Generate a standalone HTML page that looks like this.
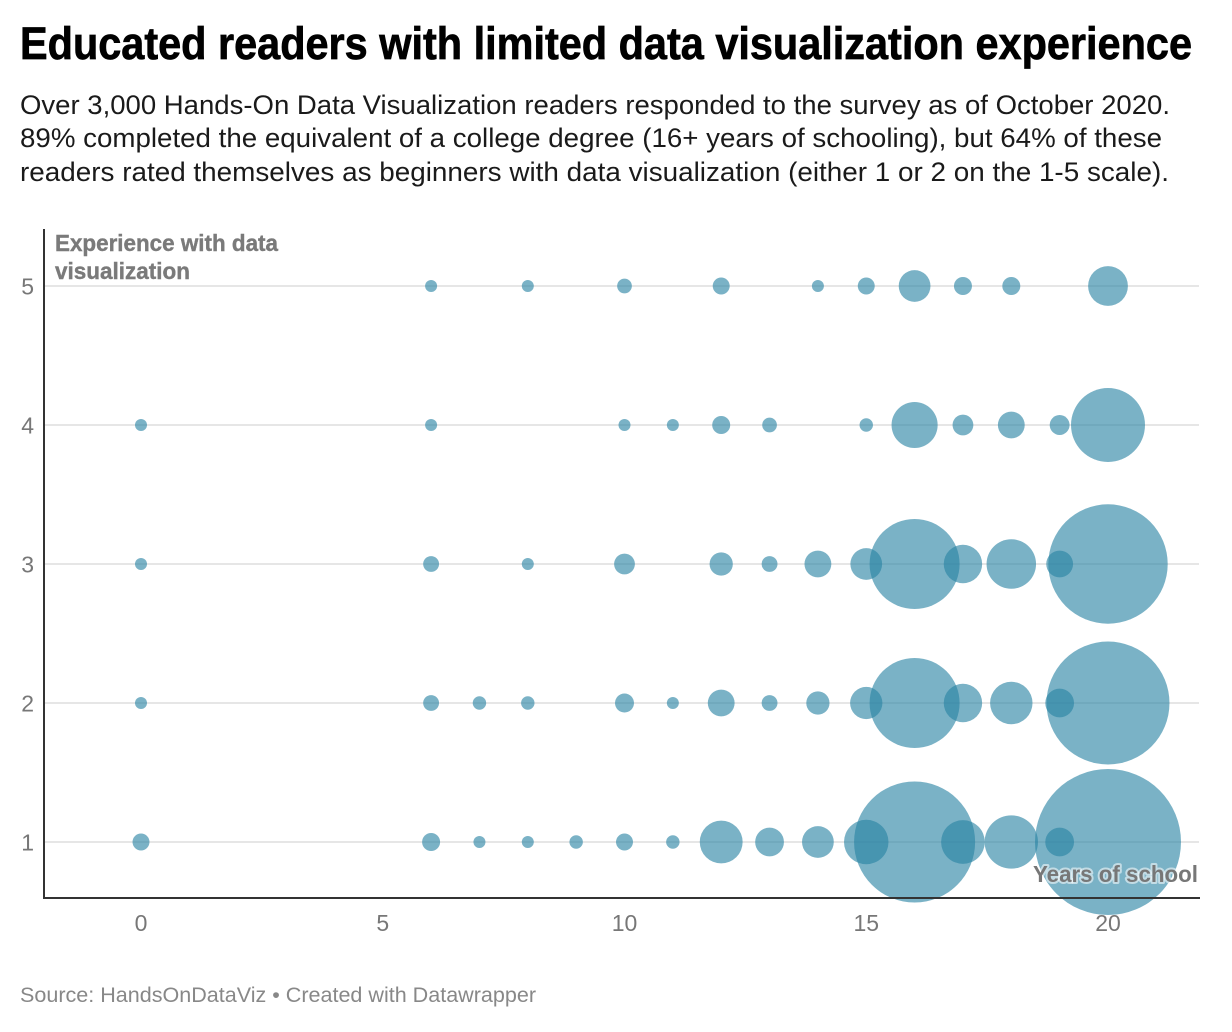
<!DOCTYPE html>
<html lang="en">
<head>
<meta charset="utf-8">
<title>Educated readers with limited data visualization experience</title>
<style>
  html, body { margin: 0; padding: 0; background: #fff; }
  svg { display: block; font-family: "Liberation Sans", sans-serif; }
  .halo { paint-order: stroke fill; stroke: rgba(255,255,255,.55); stroke-width: 4px; stroke-linejoin: round; }
</style>
</head>
<body>
<svg id="chart" width="1232" height="1032" viewBox="0 0 1232 1032" xmlns="http://www.w3.org/2000/svg">
  <rect width="1232" height="1032" fill="#fff"/>
  <text x="20" y="59" font-size="45" font-weight="700" fill="#000" stroke="#000" stroke-width="0.7" textLength="1172" lengthAdjust="spacingAndGlyphs">Educated readers with limited data visualization experience</text>
  <text x="20" y="114" font-size="27" fill="#1a1a1a" textLength="1150" lengthAdjust="spacingAndGlyphs">Over 3,000 Hands-On Data Visualization readers responded to the survey as of October 2020.</text>
  <text x="20" y="147" font-size="27" fill="#1a1a1a" textLength="1142" lengthAdjust="spacingAndGlyphs">89% completed the equivalent of a college degree (16+ years of schooling), but 64% of these</text>
  <text x="20" y="181" font-size="27" fill="#1a1a1a" textLength="1149" lengthAdjust="spacingAndGlyphs">readers rated themselves as beginners with data visualization (either 1 or 2 on the 1-5 scale).</text>
  <g id="grid"></g>
  <g id="bubbles"></g>
  <line x1="44" x2="44" y1="229" y2="899" stroke="#333" stroke-width="2"/>
  <line x1="43" x2="1200" y1="898" y2="898" stroke="#333" stroke-width="2"/>
  <g id="ticks"></g>
  <text x="55" y="251" font-size="23" font-weight="700" fill="#7a7a7a" stroke="#7a7a7a" stroke-width="0.4" textLength="223" lengthAdjust="spacingAndGlyphs">Experience with data</text>
  <text x="55" y="279" font-size="23" font-weight="700" fill="#7a7a7a" stroke="#7a7a7a" stroke-width="0.4" textLength="135" lengthAdjust="spacingAndGlyphs">visualization</text>
  <text class="halo" x="1033" y="882" font-size="23" font-weight="700" fill="#777" textLength="165" lengthAdjust="spacingAndGlyphs">Years of school</text>
  <text x="20" y="1002" font-size="21" fill="#888" textLength="516" lengthAdjust="spacingAndGlyphs">Source: HandsOnDataViz • Created with Datawrapper</text>
</svg>
<script>
const yearsOfSchool = [0, 6, 7, 8, 9, 10, 11, 12, 13, 14, 15, 16, 17, 18, 19, 20];
const readersLevel5 = [0, 4, 0, 4, 0, 6, 0, 8, 0, 4, 8, 28, 9, 9, 0, 44];
const readersLevel4 = [4, 4, 0, 0, 0, 4, 4, 9, 6, 0, 5, 59, 12, 20, 11, 152];
const readersLevel3 = [4, 7, 0, 4, 0, 12, 0, 15, 7, 20, 28, 225, 41, 68, 20, 396];
const readersLevel2 = [4, 7, 5, 5, 0, 10, 4, 20, 7, 15, 29, 225, 41, 50, 23, 420];
const readersLevel1 = [8, 9, 4, 4, 5, 8, 5, 51, 23, 28, 55, 407, 53, 79, 23, 592];
const experienceLevels = [5, 4, 3, 2, 1];
const xTickLabels = [0, 5, 10, 15, 20];
const yTickLabels = [5, 4, 3, 2, 1];

const rows = [readersLevel5, readersLevel4, readersLevel3, readersLevel2, readersLevel1];
const NS = 'http://www.w3.org/2000/svg';
function xScale(v) { return 141 + v * 48.35; }
function yScale(v) { return 842 - (v - 1) * 139; }
function rScale(v) { return 3 * Math.sqrt(v); }

const gridGroup = document.getElementById('grid');
const bubbleGroup = document.getElementById('bubbles');
const tickGroup = document.getElementById('ticks');

yTickLabels.forEach(function (tick) {
  const line = document.createElementNS(NS, 'line');
  
  
  line.setAttribute('x1', 45);
  line.setAttribute('x2', 1199);
  line.setAttribute('y1', yScale(tick));
  line.setAttribute('y2', yScale(tick));
  line.setAttribute('stroke', '#e6e6e6');
  line.setAttribute('stroke-width', 2);
  gridGroup.appendChild(line);

  const label = document.createElementNS(NS, 'text');
  
  
  label.setAttribute('x', 34);
  label.setAttribute('y', yScale(tick) + 8.5);
  label.setAttribute('text-anchor', 'end');
  label.setAttribute('font-size', 23);
  label.setAttribute('fill', '#777');
  label.textContent = tick;
  tickGroup.appendChild(label);
});

xTickLabels.forEach(function (tick) {
  const label = document.createElementNS(NS, 'text');
  
  
  label.setAttribute('x', xScale(tick));
  label.setAttribute('y', 931);
  label.setAttribute('text-anchor', 'middle');
  label.setAttribute('font-size', 23);
  label.setAttribute('fill', '#777');
  label.textContent = tick;
  tickGroup.appendChild(label);
});

rows.forEach(function (row, rowIndex) {
  row.forEach(function (count, colIndex) {
    if (!count) return;
    const dot = document.createElementNS(NS, 'circle');
    
    
    dot.setAttribute('cx', xScale(yearsOfSchool[colIndex]));
    dot.setAttribute('cy', yScale(experienceLevels[rowIndex]));
    dot.setAttribute('r', rScale(count));
    dot.setAttribute('fill', '#2882a3');
    dot.setAttribute('fill-opacity', 0.62);
    bubbleGroup.appendChild(dot);
  });
});
</script>
</body>
</html>
